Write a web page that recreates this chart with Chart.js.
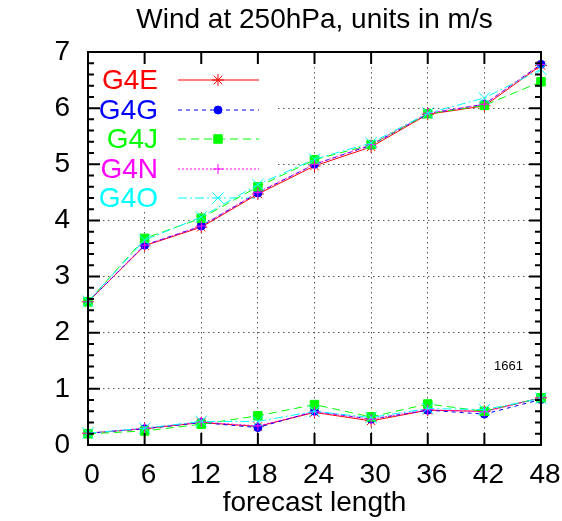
<!DOCTYPE html>
<html>
<head>
<meta charset="utf-8">
<script src="https://cdn.jsdelivr.net/npm/chart.js@4/dist/chart.umd.min.js"></script>
<style>
html, body { margin: 0; padding: 0; background: #fff; }
</style>
</head>
<body>
<canvas id="wind_chart" width="562" height="521"></canvas>
<script>
// forecast hours (x axis)
var hours = [0, 6, 12, 18, 24, 30, 36, 42, 48];
var yTicks = [0, 1, 2, 3, 4, 5, 6, 7];
var models = ['G4E', 'G4G', 'G4J', 'G4N', 'G4O'];
var sampleCount = '1661';

// upper curves
var g4eHigh = [2.55, 3.55, 3.88, 4.47, 4.97, 5.31, 5.89, 6.04, 6.76];
var g4gHigh = [2.55, 3.56, 3.90, 4.49, 5.00, 5.34, 5.90, 6.07, 6.78];
var g4jHigh = [2.55, 3.68, 4.04, 4.60, 5.08, 5.35, 5.90, 6.05, 6.47];
var g4nHigh = [2.55, 3.56, 3.90, 4.50, 5.00, 5.35, 5.91, 6.07, 6.78];
var g4oHigh = [2.56, 3.65, 4.06, 4.64, 5.09, 5.38, 5.91, 6.18, 6.69];

// lower curves
var g4eLow = [0.21, 0.29, 0.40, 0.33, 0.58, 0.43, 0.62, 0.60, 0.84];
var g4gLow = [0.21, 0.29, 0.40, 0.31, 0.60, 0.46, 0.62, 0.55, 0.81];
var g4jLow = [0.20, 0.25, 0.37, 0.52, 0.72, 0.50, 0.73, 0.60, 0.84];
var g4nLow = [0.21, 0.30, 0.41, 0.34, 0.59, 0.46, 0.63, 0.59, 0.84];
var g4oLow = [0.21, 0.30, 0.42, 0.42, 0.60, 0.49, 0.65, 0.63, 0.83];

var highs = [g4eHigh, g4gHigh, g4jHigh, g4nHigh, g4oHigh];
var lows = [g4eLow, g4gLow, g4jLow, g4nLow, g4oLow];

var styles = [
    { color: '#ff0000', dash: [], point: 'star', radius: 6 },
    { color: '#0000ff', dash: [4, 4], point: 'circle', radius: 4 },
    { color: '#00ff00', dash: [8, 5], point: 'rect', radius: 6 },
    { color: '#ff00ff', dash: [2, 2], point: 'cross', radius: 5 },
    { color: '#00ffff', dash: [9, 3, 2, 3], point: 'crossRot', radius: 8 }
];

var FONT = "'Liberation Sans', Arial, sans-serif";

function makeSet(label, values, s, idx) {
    return {
        label: label,
        data: hours.map(function (h, i) { return { x: h, y: values[i] }; }),
        borderColor: s.color,
        backgroundColor: s.color,
        borderWidth: 1,
        borderDash: s.dash,
        pointStyle: s.point,
        pointRadius: s.radius,
        pointBorderWidth: 1,
        pointBackgroundColor: s.color,
        pointBorderColor: s.color,
        tension: 0,
        clip: false,
        order: 5 - idx
    };
}

var datasets = [];
models.forEach(function (m, i) {
    datasets.push(makeSet(m, highs[i], styles[i], i));
    datasets.push(makeSet(m + ' low', lows[i], styles[i], i));
});

// key box sits over the grid but under the curves
var keyBox = {
    id: 'keyBox',
    beforeDatasetsDraw: function (chart) {
        var ctx = chart.ctx;
        ctx.save();
        ctx.fillStyle = '#fff';
        ctx.fillRect(89, 53, 186, 159);
        ctx.font = '28px ' + FONT;
        ctx.textAlign = 'right';
        ctx.textBaseline = 'middle';
        models.forEach(function (m, i) {
            var s = styles[i];
            var ky = Math.round(80 + i * 29.5);
            ctx.fillStyle = s.color;
            ctx.fillText(m, 158, ky + 1);
            ctx.strokeStyle = s.color;
            ctx.lineWidth = 1;
            ctx.setLineDash(s.dash);
            ctx.beginPath();
            ctx.moveTo(178, ky); ctx.lineTo(259, ky);
            ctx.stroke();
            ctx.setLineDash([]);
            Chart.helpers.drawPoint(ctx, {
                pointStyle: s.point, radius: s.radius, borderWidth: 1, rotation: 0
            }, 218, ky);
        });
        ctx.restore();
    }
};

// box, inward ticks and count label
var frame = {
    id: 'frame',
    afterDraw: function (chart) {
        var ctx = chart.ctx, a = chart.chartArea;
        var xs = chart.scales.x, ys = chart.scales.y;
        ctx.save();
        ctx.strokeStyle = '#000';
        ctx.lineWidth = 2;
        ctx.setLineDash([]);
        ctx.beginPath();
        for (var i = 0; i <= 35; i++) {
            var py = ys.getPixelForValue(i / 5);
            var len = (i % 5 === 0) ? 12 : 6;
            ctx.moveTo(a.left, py); ctx.lineTo(a.left + len, py);
            ctx.moveTo(a.right, py); ctx.lineTo(a.right - len, py);
        }
        hours.forEach(function (h) {
            var px = xs.getPixelForValue(h);
            ctx.moveTo(px, a.bottom); ctx.lineTo(px, a.bottom - 12);
            ctx.moveTo(px, a.top); ctx.lineTo(px, a.top + 12);
        });
        ctx.stroke();
        ctx.strokeRect(a.left, a.top, a.right - a.left, a.bottom - a.top);

        ctx.fillStyle = '#000';
        ctx.font = '13px ' + FONT;
        ctx.textAlign = 'right';
        ctx.textBaseline = 'middle';
        ctx.fillText(sampleCount, 523, 366);
        ctx.restore();
    }
};

function init() {
    var ctx = document.getElementById('wind_chart').getContext('2d');
    var chart = new Chart(ctx, {
        type: 'line',
        data: { datasets: datasets },
        plugins: [keyBox, frame],
        options: {
            responsive: false,
            animation: false,
            devicePixelRatio: 1,
            layout: { padding: { left: 0, right: 21, top: 0, bottom: 0 } },
            plugins: {
                legend: { display: false },
                tooltip: { enabled: false },
                title: {
                    display: true,
                    fullSize: false,
                    text: 'Wind at 250hPa, units in m/s',
                    color: '#000',
                    font: { family: FONT, size: 28, weight: 'normal' },
                    padding: { top: 3.5, bottom: 14.9 }
                }
            },
            scales: {
                x: {
                    type: 'linear',
                    min: 0,
                    max: 48,
                    afterFit: function (s) {
                        s.height = 76;
                        s.paddingLeft = 0;
                        s.paddingRight = 0;
                    },
                    afterBuildTicks: function (s) {
                        s.ticks = hours.map(function (h) { return { value: h }; });
                    },
                    ticks: {
                        color: '#000',
                        padding: 13,
                        labelOffset: 4,
                        maxRotation: 0,
                        autoSkip: false,
                        font: { family: FONT, size: 28 }
                    },
                    grid: {
                        drawTicks: false,
                        color: '#555',
                        lineWidth: 1
                    },
                    border: { display: false, dash: [1.5, 3.5] },
                    title: {
                        display: true,
                        text: 'forecast length',
                        color: '#000',
                        font: { family: FONT, size: 28 },
                        padding: { top: 0, bottom: 1 }
                    }
                },
                y: {
                    type: 'linear',
                    min: 0,
                    max: 7,
                    afterFit: function (s) {
                        s.width = 88;
                        s.paddingTop = 0;
                        s.paddingBottom = 0;
                    },
                    afterBuildTicks: function (s) {
                        s.ticks = yTicks.map(function (v) { return { value: v }; });
                    },
                    ticks: {
                        color: '#000',
                        padding: 18,
                        autoSkip: false,
                        font: { family: FONT, size: 28 }
                    },
                    grid: {
                        drawTicks: false,
                        color: '#555',
                        lineWidth: 1
                    },
                    border: { display: false, dash: [1.5, 3.5] }
                }
            }
        }
    });
}

window.onload = init;
</script>
</body>
</html>
